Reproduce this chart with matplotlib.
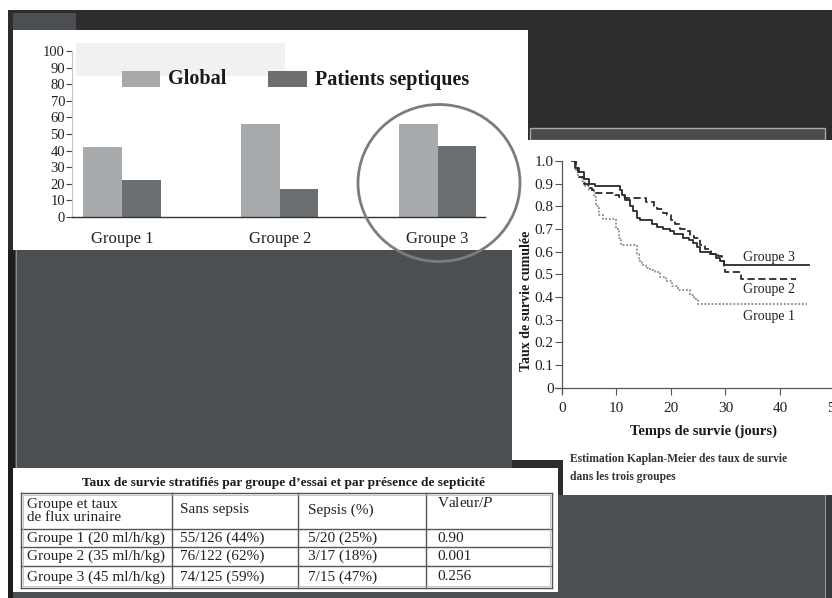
import matplotlib
matplotlib.use("Agg")
import matplotlib.pyplot as plt
from matplotlib.patches import Rectangle, Ellipse

plt.rcParams['font.family'] = ['Liberation Serif', 'DejaVu Serif']
plt.rcParams['mathtext.fontset'] = 'custom'
plt.rcParams['mathtext.rm'] = 'Liberation Serif'
plt.rcParams['mathtext.it'] = 'Liberation Serif:italic'

# ---------------- data ----------------
bar_groups = ["Groupe 1", "Groupe 2", "Groupe 3"]
global_vals = [42, 56, 56]
septic_vals = [22, 17, 43]
bar_legend = ["Global", "Patients septiques"]
bar_yticks = [0, 10, 20, 30, 40, 50, 60, 70, 80, 90, 100]

km_t1 = [2.0, 2.5, 3.0, 3.6, 4.2, 5.0, 5.8, 6.3, 6.8, 7.5, 10.0, 10.4, 10.8, 13.8, 14.2, 14.7,
         15.5, 16.2, 17.0, 18.0, 19.0, 20.2, 21.2, 23.5, 24.2, 24.9, 45.0]
km_s1 = [1.0, 0.96, 0.93, 0.91, 0.89, 0.87, 0.84, 0.80, 0.76, 0.745, 0.70, 0.66, 0.63, 0.59, 0.56, 0.54,
         0.53, 0.52, 0.51, 0.49, 0.47, 0.45, 0.43, 0.41, 0.39, 0.37, 0.37]
km_t2 = [2.0, 2.6, 3.2, 4.0, 4.8, 5.5, 6.0, 9.8, 10.5, 11.5, 15.5, 16.8, 17.5, 18.5, 19.2, 20.0, 20.7,
         21.7, 22.8, 23.5, 24.3, 25.3, 26.2, 27.4, 28.6, 29.3, 29.7, 30.0, 32.8, 42.9]
km_s2 = [1.0, 0.97, 0.93, 0.90, 0.88, 0.87, 0.86, 0.85, 0.84, 0.835, 0.82, 0.80, 0.79, 0.77, 0.76, 0.74, 0.72,
         0.70, 0.69, 0.67, 0.66, 0.63, 0.61, 0.59, 0.58, 0.56, 0.53, 0.51, 0.48, 0.48]
km_t3 = [1.8, 2.4, 3.0, 4.0, 5.0, 6.0, 10.6, 11.0, 11.6, 12.4, 13.0, 13.7, 14.3, 16.5, 17.5, 18.6, 19.8,
         20.5, 22.2, 23.3, 24.0, 24.7, 25.4, 27.2, 28.3, 29.0, 29.7, 45.4]
km_s3 = [1.0, 0.97, 0.95, 0.92, 0.90, 0.89, 0.87, 0.85, 0.83, 0.80, 0.78, 0.75, 0.74, 0.72, 0.71, 0.70, 0.69,
         0.68, 0.66, 0.65, 0.64, 0.62, 0.60, 0.59, 0.57, 0.56, 0.54, 0.54]
km_labels = ["Groupe 1", "Groupe 2", "Groupe 3"]
km_label_y = [0.316, 0.435, 0.572]
km_xticks = [0, 10, 20, 30, 40, 50]
km_yticks = [0, 0.1, 0.2, 0.3, 0.4, 0.5, 0.6, 0.7, 0.8, 0.9, 1.0]
km_yticklabels = ["0", "0.1", "0.2", "0.3", "0.4", "0.5", "0.6", "0.7", "0.8", "0.9", "1.0"]

table_title = "Taux de survie stratifiés par groupe d\u2019essai et par présence de septicité"
table_header = ["Groupe et taux\nde flux urinaire", "Sans sepsis", "Sepsis (%)", "Valeur/$\\mathit{P}$"]
table_col1 = ["Groupe 1 (20 ml/h/kg)", "Groupe 2 (35 ml/h/kg)", "Groupe 3 (45 ml/h/kg)"]
table_col2 = ["55/126 (44%)", "76/122 (62%)", "74/125 (59%)"]
table_col3 = ["5/20 (25%)", "3/17 (18%)", "7/15 (47%)"]
table_col4 = ["0.90", "0.001", "0.256"]

caption = "Estimation Kaplan-Meier des taux de survie\ndans les trois groupes"

# ---------------- figure ----------------
W, H = 832, 598
fig = plt.figure(figsize=(W / 100, H / 100), dpi=100)
fig.patch.set_facecolor("white")


def px(x0, y0, x1, y1):
    return [x0 / W, 1 - y1 / H, (x1 - x0) / W, (y1 - y0) / H]


bg = fig.add_axes([0, 0, 1, 1])
bg.set_xlim(0, W)
bg.set_ylim(H, 0)
bg.axis("off")


def rect(x0, y0, x1, y1, fc, ec="none", lw=0, z=1):
    bg.add_patch(Rectangle((x0, y0), x1 - x0, y1 - y0, facecolor=fc, edgecolor=ec, lw=lw, zorder=z))


DARK = "#2e2c2d"
GRAY = "#4c4f52"
rect(8, 10, W, H, DARK)
rect(13, 13, 76, 30, "#4b4f53")
rect(8, 250, 15, H, "#1e1e1e")
rect(15, 250, 512, H, GRAY)
rect(16, 250, 17, H, "#8a8c8e", z=1.5)
rect(558, 495, W, H, GRAY)
rect(825, 495, 826, H, "#9a9a9a", z=1.5)
rect(826, 495, W, H, "#3a3a3c", z=1.5)
rect(530, 128, 825, 140, "#4a4b4d", ec="#a8a8a8", lw=1.0)
# white panels
rect(13, 30, 528, 250, "white", z=2)
rect(512, 140, W, 460, "white", z=2)
rect(563, 455, W, 495, "white", z=2)
rect(13, 468, 558, 592, "white", z=2)
rect(13, 592, 558, H, GRAY, z=2)
# light legend band
rect(76, 43, 285, 76, "#f1f1f1", z=2.5)

# legend patches + text (bar chart)
GL = "#a7aaad"
SP = "#6c6f72"
rect(122, 71, 160, 87, GL, z=3)
rect(268, 71, 307, 87, SP, z=3)
bg.text(168, 79.5, bar_legend[0], fontsize=14.5, fontweight="bold", va="center", ha="left", color="#1a1a1a", zorder=4)
bg.text(315, 79.5, bar_legend[1], fontsize=14.5, fontweight="bold", va="center", ha="left", color="#1a1a1a", zorder=4)

# ---------------- bar chart ----------------
axb = fig.add_axes(px(72, 51, 485, 217), zorder=3)
axb.patch.set_alpha(0)
x = list(range(len(bar_groups)))
bw = 0.245
axb.bar([i - bw / 2 for i in x], global_vals, width=bw, color=GL, zorder=2)
axb.bar([i + bw / 2 for i in x], septic_vals, width=bw, color=SP, zorder=2)
axb.set_xlim(-0.316, 2.3)
axb.set_ylim(0, 100)
axb.set_yticks(bar_yticks)
axb.set_yticklabels([str(v) for v in bar_yticks], fontsize=10.5, color="#222")
axb.tick_params(axis="y", direction="out", length=4, width=0.8, pad=1, color="#444")
axb.set_xticks(x)
axb.set_xticklabels(bar_groups, fontsize=12, color="#222")
axb.tick_params(axis="x", length=0, pad=10)
for s in ["top", "right"]:
    axb.spines[s].set_visible(False)
axb.spines["left"].set_color("#c8c8c8")
axb.spines["left"].set_linestyle((0, (3, 1)))
axb.spines["bottom"].set_color("#333")
axb.spines["bottom"].set_linewidth(1.0)

# ---------------- Kaplan-Meier ----------------
axk = fig.add_axes(px(554.9, 161, 834.5, 393.3), zorder=3)
axk.patch.set_alpha(0)
axk.step(km_t1, km_s1, where="post", color="#8a8a8a", lw=1.3, linestyle=(0, (1, 1)))
axk.step(km_t2, km_s2, where="post", color="#2a2a2a", lw=1.3, linestyle=(0, (4, 2)))
axk.step(km_t3, km_s3, where="post", color="#2a2a2a", lw=1.3)
axk.set_xlim(-1.3, 50)
axk.set_ylim(-0.025, 1.0)
axk.spines["left"].set_position(("data", 0))
axk.spines["bottom"].set_position(("data", 0))
for s in ["top", "right"]:
    axk.spines[s].set_visible(False)
for s in ["left", "bottom"]:
    axk.spines[s].set_color("#555")
    axk.spines[s].set_linewidth(0.9)
axk.set_xticks(km_xticks)
axk.set_xticklabels([str(v) for v in km_xticks], fontsize=11, color="#222")
axk.set_yticks(km_yticks)
axk.set_yticklabels(km_yticklabels, fontsize=11, color="#222")
axk.tick_params(direction="out", length=5, width=0.8, color="#555", pad=1)
axk.tick_params(axis="x", pad=5)
for lab, yv in zip(km_labels, km_label_y):
    axk.text(33.2, yv, lab, fontsize=10, color="#222", va="center", ha="left")
axk.text(-0.10, 0.40, "Taux de survie cumulée", transform=axk.transAxes, rotation=90,
         fontsize=10, fontweight="bold", ha="center", va="center", color="#1a1a1a")
axk.text(0.53, -0.162, "Temps de survie (jours)", transform=axk.transAxes,
         fontsize=10.5, fontweight="bold", ha="center", va="center", color="#1a1a1a")

bg.text(570, 468, caption, fontsize=8.3, fontweight="bold", color="#333", ha="left", va="center",
        linespacing=1.6, zorder=5)

# ---------------- table ----------------
xs = [21, 172, 298, 426, 552]
ys = [493, 529, 547, 566, 588]
for xv in xs:
    bg.plot([xv, xv], [ys[0], ys[-1]], color="#555", lw=1.0, zorder=5)
for yv in ys:
    bg.plot([xs[0], xs[-1]], [yv, yv], color="#555", lw=1.0, zorder=5)
bg.add_patch(Rectangle((xs[0] + 2, ys[0] + 2), xs[-1] - xs[0] - 4, ys[-1] - ys[0] - 4,
                       fill=False, ec="#bbbbbb", lw=0.6, zorder=5))
bg.text(283.5, 483, table_title, fontsize=9.6, fontweight="bold", ha="center", va="center",
        color="#1a1a1a", zorder=6)
tx = [27, 180, 308, 437]
bg.text(tx[0], 511, table_header[0], fontsize=11, ha="left", va="center", color="#222",
        linespacing=0.95, zorder=6)
bg.text(tx[1], 510, table_header[1], fontsize=11, ha="left", va="center", color="#222", zorder=6)
bg.text(tx[2], 510, table_header[2], fontsize=11, ha="left", va="center", color="#222", zorder=6)
bg.text(tx[3], 503, table_header[3], fontsize=11, ha="left", va="center", color="#222", zorder=6)
cols = [table_col1, table_col2, table_col3, table_col4]
for r in range(3):
    yc = (ys[r + 1] + ys[r + 2]) / 2
    for c in range(4):
        bg.text(tx[c], yc, cols[c][r], fontsize=11, ha="left", va="center",
                color="#222", zorder=6)

# ---------------- circle overlay ----------------
ov = fig.add_axes([0, 0, 1, 1], zorder=10)
ov.set_xlim(0, W)
ov.set_ylim(H, 0)
ov.axis("off")
ov.patch.set_alpha(0)
ov.add_patch(Ellipse((439, 183), 162, 157, fill=False, ec="#7c7c7c", lw=2.0))

fig.savefig("out.png", dpi=100)
